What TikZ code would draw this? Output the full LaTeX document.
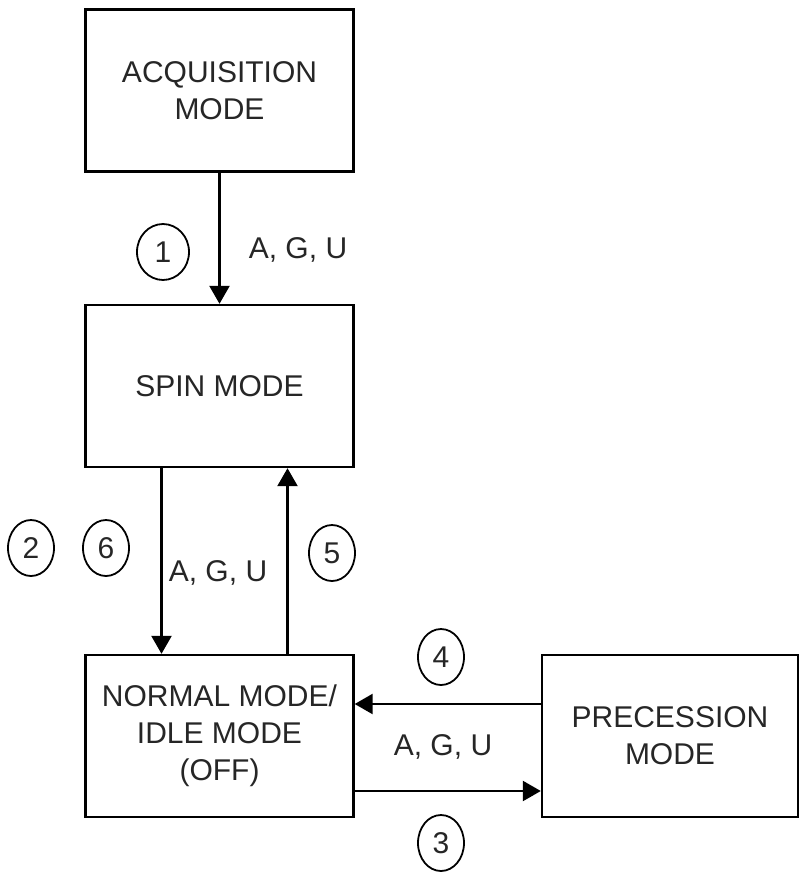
\documentclass[tikz,border=0pt]{standalone}
\usepackage{fontspec}
\setmainfont{Liberation Sans}
\usetikzlibrary{arrows.meta,shapes.geometric}
\begin{document}
\begin{tikzpicture}[x=0.5pt,y=-0.5pt,
  font=\fontsize{15pt}{18.5pt}\selectfont,
  modebox/.style={draw=black,line width=1.2pt,minimum width=134pt,minimum height=81pt,align=center,inner sep=0pt,text=black!85},
  num/.style={draw=black,line width=0.9pt,ellipse,minimum width=23pt,minimum height=28pt,inner sep=0pt,text=black!85},
  lbl/.style={text=black!85,inner sep=0pt},
  arr/.style={line width=1.2pt,-{Triangle[length=9pt,width=10pt]}}]
\useasboundingbox (0,0) rectangle (808,873);
\node[modebox] (acq) at (219.5,90.5) {ACQUISITION\\MODE};
\node[modebox] (spin) at (219.5,386) {SPIN MODE};
\node[modebox] (norm) at (219.5,736) {NORMAL MODE/\\IDLE MODE\\(OFF)};
\node[modebox,minimum width=128pt] (prec) at (670,736) {PRECESSION\\MODE};
\draw[arr] (acq.south) -- (spin.north);
\draw[arr] ([xshift=-29pt]spin.south) -- ([xshift=-29pt]norm.north);
\draw[arr] ([xshift=34pt]norm.north) -- ([xshift=34pt]spin.south);
\draw[arr] ([yshift=16pt]prec.west) -- ([yshift=16pt]norm.east);
\draw[arr] ([yshift=-27.5pt]norm.east) -- ([yshift=-27.5pt]prec.west);
\node[num,minimum width=26pt] (n1) at (163,252) {1};
\node[lbl] (l1) at (298,250) {A, G, U};
\node[num] (n2) at (31,548) {2};
\node[num] (n6) at (106,548) {6};
\node[lbl] (l2) at (218,573) {A, G, U};
\node[num] (n5) at (332,553) {5};
\node[num] (n4) at (441,657) {4};
\node[lbl] (l3) at (443,747) {A, G, U};
\node[num] (n3) at (441,843) {3};
\end{tikzpicture}
\end{document}
